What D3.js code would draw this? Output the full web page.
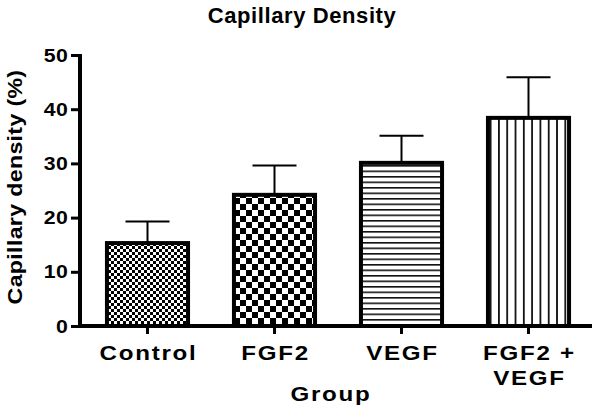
<!DOCTYPE html>
<html><head><meta charset="utf-8">
<script src="https://cdn.jsdelivr.net/npm/d3@7"></script>
<style>body{margin:0;background:#fff}svg{display:block}text{font-family:"Liberation Sans",Arial,sans-serif;font-weight:bold;fill:#000}</style>
</head><body><svg id="c" width="600" height="410"></svg>
<script>
const categories = ["Control", "FGF2", "VEGF", "FGF2 + VEGF"];
const catLines = [["Control"], ["FGF2"], ["VEGF"], ["FGF2 +", "VEGF"]];
const means = [15.3, 24.2, 30.1, 38.4];
const errors = [4.0, 5.4, 5.0, 7.5];
const yTicks = [0, 10, 20, 30, 40, 50];
const patterns = ["checkFine", "checkCoarse", "hlines", "vlines"];

const svg = d3.select("#c");
const defs = svg.append("defs");
let p = defs.append("pattern").attr("id","checkFine").attr("patternUnits","userSpaceOnUse").attr("width",6).attr("height",6);
p.append("rect").attr("width",6).attr("height",6).attr("fill","#fff");
p.append("rect").attr("width",3).attr("height",3).attr("fill","#000");
p.append("rect").attr("x",3).attr("y",3).attr("width",3).attr("height",3).attr("fill","#000");
p = defs.append("pattern").attr("id","checkCoarse").attr("patternUnits","userSpaceOnUse").attr("width",12).attr("height",12);
p.append("rect").attr("width",12).attr("height",12).attr("fill","#fff");
p.append("rect").attr("width",6).attr("height",6).attr("fill","#000");
p.append("rect").attr("x",6).attr("y",6).attr("width",6).attr("height",6).attr("fill","#000");
p = defs.append("pattern").attr("id","hlines").attr("patternUnits","userSpaceOnUse").attr("width",10).attr("height",5.5);
p.append("rect").attr("width",10).attr("height",5.5).attr("fill","#fff");
p.append("rect").attr("y",0).attr("width",10).attr("height",1.6).attr("fill","#111");
p = defs.append("pattern").attr("id","vlines").attr("patternUnits","userSpaceOnUse").attr("width",8.3).attr("height",10);
p.append("rect").attr("width",8.3).attr("height",10).attr("fill","#fff");
p.append("rect").attr("x",0).attr("width",1.8).attr("height",10).attr("fill","#111");

const x = d3.scaleBand().domain(categories).range([84, 592]).paddingInner(0.33).paddingOuter(0.165);
const y = d3.scaleLinear().domain([0, 50]).range([326, 55]);

// stretched bold text helper
function stext(parent, tx, ty, str, size, sx, ls, anchor, rot) {
  const g = parent.append("g").attr("transform", `translate(${tx},${ty})${rot ? " rotate(" + rot + ")" : ""} scale(${sx},1)`);
  return g.append("text").attr("text-anchor", anchor).style("font-size", size + "px").style("letter-spacing", ls + "px").text(str);
}

const g = svg.append("g");
categories.forEach((c, i) => {
  const cx = x(c) + x.bandwidth()/2;
  g.append("line").attr("x1",cx).attr("x2",cx).attr("y1",y(means[i])).attr("y2",y(means[i]+errors[i])).attr("stroke","#000").attr("stroke-width",2);
  g.append("line").attr("x1",cx-22).attr("x2",cx+22).attr("y1",y(means[i]+errors[i])).attr("y2",y(means[i]+errors[i])).attr("stroke","#000").attr("stroke-width",2);
});
g.selectAll("rect.bar").data(categories).join("rect").attr("class","bar")
  .attr("x", d => x(d)+2).attr("width", x.bandwidth()-4)
  .attr("y", (d,i) => y(means[i])).attr("height", (d,i) => y(0)-y(means[i]))
  .attr("fill", (d,i) => `url(#${patterns[i]})`).attr("stroke","#000").attr("stroke-width",4);

// y axis
const ya = svg.append("g").attr("transform","translate(80,0)")
  .call(d3.axisLeft(y).tickValues(yTicks).tickSize(9).tickFormat(""));
ya.select(".domain").attr("stroke-width",4).attr("d", `M0,${y(50)-1}V${y(0)+2}`);
ya.selectAll(".tick line").attr("stroke-width",3);
yTicks.forEach(t => {
  stext(svg, 68.5, y(t), String(t), 18.5, 1.15, 0.5, "end").attr("dy", "0.36em");
});

// x axis
const xa = svg.append("g").attr("transform",`translate(0,${y(0)})`)
  .call(d3.axisBottom(x).tickSize(8).tickFormat(""));
xa.select(".domain").attr("stroke-width",4).attr("d","M78,0H592");
xa.selectAll(".tick line").attr("stroke-width",3);

categories.forEach((c, i) => {
  const cx = x(c) + x.bandwidth()/2;
  catLines[i].forEach((ln, j) => stext(svg, cx + 1, 360 + j*25, ln, 21, 1.15, 1.5, "middle"));
});

stext(svg, 331, 401, "Group", 21, 1.15, 1.5, "middle");
stext(svg, 22, 187, "Capillary density (%)", 20.5, 1.13, 0.3, "middle", -90);
stext(svg, 302, 23, "Capillary Density", 22, 1.0, 0.6, "middle");
</script></body></html>
